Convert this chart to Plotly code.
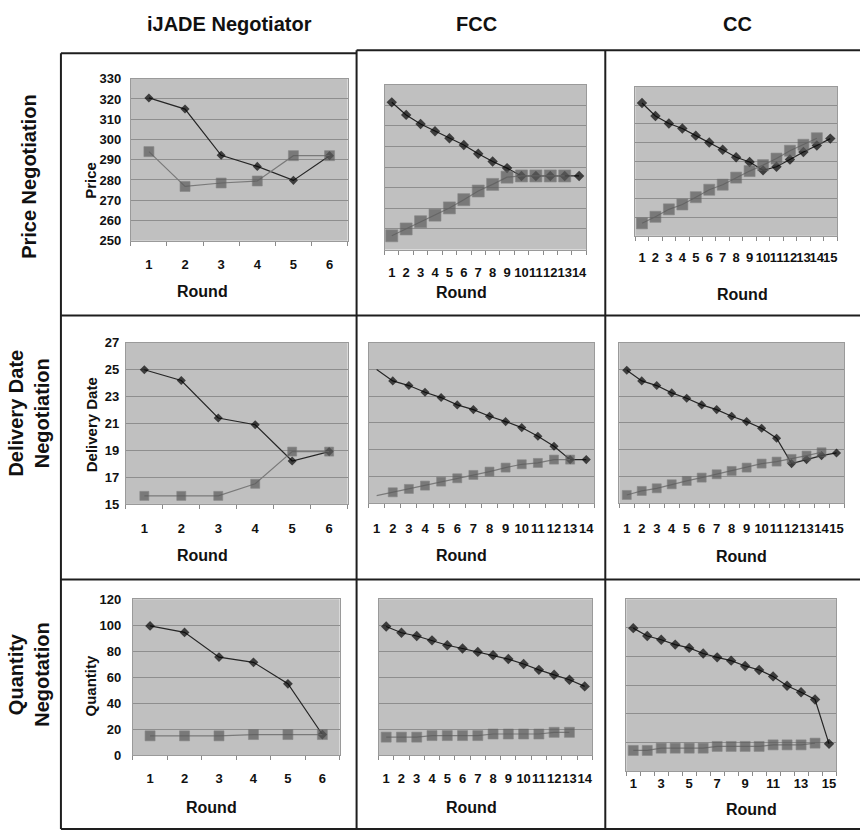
import plotly.graph_objects as go

W, H = 861, 838
FONT = "Liberation Sans, Arial, Helvetica, sans-serif"

# ---------------- data ----------------
rounds_ijade = [1, 2, 3, 4, 5, 6]
rounds_fcc = list(range(1, 15))
rounds_cc = list(range(1, 16))

# Price negotiation
price_ijade_buyer = [320.5, 315.0, 292.2, 286.7, 279.8, 292.0]
price_ijade_seller = [294.0, 276.8, 278.5, 279.5, 292.0, 292.0]
price_fcc_buyer = [321.4, 315.3, 310.9, 307.4, 304.0, 300.7, 296.5, 292.7, 289.5,
                   285.7, 285.7, 285.7, 285.7, 285.7]
price_fcc_seller = [256.7, 260.0, 263.5, 266.7, 270.2, 274.2, 278.4, 281.6, 285.1,
                    285.7, 285.7, 285.7, 285.7]
price_cc_buyer = [321.2, 314.2, 310.2, 307.5, 303.7, 300.0, 296.1, 292.1, 289.6,
                  285.1, 287.0, 290.9, 294.9, 298.4, 302.1]
price_cc_seller = [256.7, 260.2, 264.2, 266.8, 270.7, 274.7, 277.4, 281.2, 284.7,
                   287.9, 291.4, 295.6, 298.8, 302.3]

# Delivery date negotiation
date_ijade_buyer = [25.0, 24.2, 21.4, 20.9, 18.2, 18.9]
date_ijade_seller = [15.6, 15.6, 15.6, 16.5, 18.9, 18.9]
date_fcc_buyer = [25.0, 24.15, 23.8, 23.3, 22.9, 22.35, 22.0, 21.5, 21.1, 20.65,
                  20.0, 19.25, 18.25, 18.25]
date_fcc_seller = [15.55, 15.8, 16.05, 16.3, 16.6, 16.85, 17.1, 17.35, 17.65, 17.9,
                   18.0, 18.25, 18.25]
date_cc_buyer = [24.95, 24.15, 23.8, 23.25, 22.85, 22.35, 22.0, 21.5, 21.1, 20.6,
                 19.85, 17.95, 18.25, 18.55, 18.75]
date_cc_seller = [15.6, 15.9, 16.1, 16.4, 16.65, 16.9, 17.15, 17.4, 17.65, 17.95,
                  18.1, 18.3, 18.55, 18.8]

# Quantity negotiation
qty_ijade_buyer = [99.5, 94.5, 75.5, 71.5, 55.0, 16.0]
qty_ijade_seller = [15.0, 15.0, 15.0, 16.0, 16.0, 16.0]
qty_fcc_buyer = [99.0, 94.2, 91.7, 88.4, 84.6, 82.1, 79.5, 77.0, 74.0, 70.2,
                 65.7, 61.9, 58.1, 53.0]
qty_fcc_seller = [14.0, 14.0, 14.0, 15.2, 15.2, 15.2, 15.2, 16.4, 16.4, 16.4,
                  16.4, 17.7, 17.7]
qty_cc_buyer = [99.8, 94.3, 91.7, 88.3, 86.0, 82.1, 79.4, 77.1, 73.4, 70.6,
                66.1, 59.6, 55.0, 50.0, 19.0]
qty_cc_seller = [14.4, 14.4, 16.0, 16.0, 16.0, 16.0, 17.2, 17.2, 17.2, 17.2,
                 18.3, 18.3, 18.3, 19.5]

column_titles = ["iJADE Negotiator", "FCC", "CC"]
row_titles = ["Price Negotiation", "Delivery Date<br>Negotiation", "Quantity<br>Negotation"]
y_titles = ["Price", "Delivery Date", "Quantity"]
x_title = "Round"

y_scales = {
    "price": dict(range=[250, 330], dtick=10),
    "date": dict(range=[15, 27], dtick=2),
    "qty": dict(range=[0, 120], dtick=20),
}

# ---------------- layout of the 3x3 grid (pixel boxes of each plot area) ----------------
panels = [
    dict(rounds=rounds_ijade, a=price_ijade_buyer, b=price_ijade_seller, scale="price",
         box=(131, 73, 348, 238), ylab=True, xstand=12, ystand=6, dsize=7, ssize=10),
    dict(rounds=rounds_fcc, a=price_fcc_buyer, b=price_fcc_seller, scale="price",
         box=(385, 79, 587, 247), ylab=False, xstand=11, dsize=8, ssize=12),
    dict(rounds=rounds_cc, a=price_cc_buyer, b=price_cc_seller, scale="price",
         box=(636, 81, 838, 233), ylab=False, xstand=10, dsize=8, ssize=11),
    dict(rounds=rounds_ijade, a=date_ijade_buyer, b=date_ijade_seller, scale="date",
         box=(126, 342, 348, 506), ylab=True, xstand=12, ystand=3, dsize=7, ssize=9),
    dict(rounds=rounds_fcc, a=date_fcc_buyer, b=date_fcc_seller, scale="date",
         box=(369, 342, 595, 505), ylab=False, xstand=13, dsize=7, ssize=9, skip_first=True),
    dict(rounds=rounds_cc, a=date_cc_buyer, b=date_cc_seller, scale="date",
         box=(620, 342, 845, 505), ylab=False, xstand=13, dsize=7, ssize=9),
    dict(rounds=rounds_ijade, a=qty_ijade_buyer, b=qty_ijade_seller, scale="qty",
         box=(133, 603, 340, 762), ylab=True, xstand=11, ystand=8, dsize=7.5, ssize=10),
    dict(rounds=rounds_fcc, a=qty_fcc_buyer, b=qty_fcc_seller, scale="qty",
         box=(379, 603, 593, 762), ylab=False, xstand=11, dsize=8, ssize=10),
    dict(rounds=rounds_cc, a=qty_cc_buyer, b=qty_cc_seller, scale="qty",
         box=(627, 603, 837, 778), ylab=False, xstand=0, dsize=8, ssize=10, odd_only=True),
]

fig = go.Figure()
axes_layout = {}

for i, p in enumerate(panels, start=1):
    xname = "x" if i == 1 else f"x{i}"
    yname = "y" if i == 1 else f"y{i}"
    l, t, r, b = p["box"]
    rounds = p["rounds"]
    n = len(rounds)

    dsizes = [p["dsize"]] * len(p["a"])
    ssizes = [p["ssize"]] * len(p["b"])
    if p.get("skip_first"):
        dsizes[0] = 0
        ssizes[0] = 0

    fig.add_trace(go.Scatter(
        x=rounds[:len(p["a"])], y=p["a"], xaxis=xname, yaxis=yname,
        mode="lines+markers", showlegend=False, hoverinfo="skip",
        line=dict(color="#262626", width=1.2),
        marker=dict(symbol="diamond", size=dsizes, color="#050505",
                    line=dict(width=0)),
    ))
    fig.add_trace(go.Scatter(
        x=rounds[:len(p["b"])], y=p["b"], xaxis=xname, yaxis=yname,
        mode="lines+markers", showlegend=False, hoverinfo="skip",
        line=dict(color="#7a7a7a", width=1.2),
        marker=dict(symbol="square", size=ssizes, color="#5c5c5c",
                    line=dict(width=0.6, color="#6e6e6e")),
    ))

    if p.get("odd_only"):
        tickvals = [v for v in rounds if v % 2 == 1]
    else:
        tickvals = rounds

    xkey = "xaxis" if i == 1 else f"xaxis{i}"
    ykey = "yaxis" if i == 1 else f"yaxis{i}"
    axes_layout[xkey] = dict(
        domain=[l / W, r / W], anchor=yname,
        range=[0.5, n + 0.5], tickmode="array",
        tickvals=tickvals, ticktext=[str(v) for v in tickvals],
        tickangle=0, ticks="", showgrid=False, zeroline=False,
        showline=True, linecolor="#9a9a9a", linewidth=1, mirror=True,
        tickfont=dict(family=FONT, size=13, color="#111", weight="bold"),
        ticklabelstandoff=p["xstand"],
        minor=dict(tickmode="linear", tick0=0.5, dtick=1, ticks="outside",
                   ticklen=4, tickcolor="#8a8a8a", showgrid=False),
        fixedrange=True,
    )
    sc = y_scales[p["scale"]]
    axes_layout[ykey] = dict(
        domain=[1 - b / H, 1 - t / H], anchor=xname,
        range=sc["range"], tickmode="linear", tick0=sc["range"][0], dtick=sc["dtick"],
        showgrid=True, gridcolor="#8e8e8e", gridwidth=1, zeroline=False,
        showline=True, linecolor="#9a9a9a", linewidth=1, mirror=True,
        ticks="", showticklabels=p["ylab"],
        tickfont=dict(family=FONT, size=13, color="#111", weight="bold"),
        ticklabelstandoff=p.get("ystand", 4),
        fixedrange=True,
    )

fig.update_layout(**axes_layout)

# ---------------- text ----------------
annotations = []


def text(x, y, s, size, angle=0):
    annotations.append(dict(
        x=x / W, y=1 - y / H, xref="paper", yref="paper", text=s, showarrow=False,
        xanchor="center", yanchor="middle", textangle=angle,
        font=dict(family=FONT, size=size, color="#111", weight="bold"),
    ))


for (cx, s) in zip([230, 477, 738], column_titles):
    text(cx, 17, s, 20)

for (cy, s) in zip([173, 413, 680], row_titles):
    text(29, cy, s, 20, angle=-90)

for (cy, s) in zip([176, 425, 691], y_titles):
    text(91, cy, s, 15, angle=-90)

round_positions = [(203, 290), (462, 291), (743, 293),
                   (203, 559), (462, 559), (742, 560),
                   (212, 815), (472, 815), (752, 817)]
for (rx, ry) in round_positions:
    text(rx, ry, x_title, 16)

# ---------------- table rules ----------------
shapes = []


def rule(x0, y0, x1, y1):
    shapes.append(dict(type="line", xref="paper", yref="paper",
                       x0=x0 / W, y0=1 - y0 / H, x1=x1 / W, y1=1 - y1 / H,
                       line=dict(color="#1e1e1e", width=2)))


rule(61, 47, 357, 47)
rule(357, 44, 861, 44)
rule(61, 47, 61, 837)
rule(357, 44, 357, 837)
rule(606, 44, 606, 837)
rule(61, 314, 861, 314)
rule(61, 583, 861, 583)
rule(61, 837, 861, 837)

fig.update_layout(
    width=W, height=H,
    margin=dict(l=0, r=0, t=0, b=0),
    paper_bgcolor="white", plot_bgcolor="#c0c0c0",
    annotations=annotations, shapes=shapes,
    showlegend=False,
)

fig.write_html("out.html")
